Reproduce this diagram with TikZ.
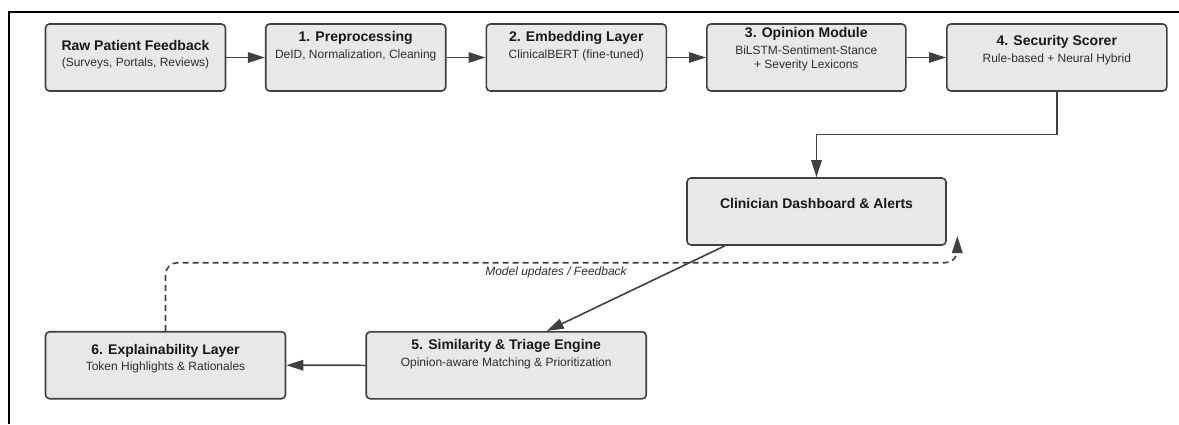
\documentclass[tikz,border=0pt]{standalone}
\usepackage{fontspec}
\setmainfont{Liberation Sans}
\usetikzlibrary{arrows.meta,positioning,calc}
\definecolor{boxfill}{HTML}{E8E8E8}
\definecolor{boxline}{HTML}{404040}
\definecolor{subtext}{HTML}{2E2E2E}
\tikzset{
    flowbox/.style={draw=boxline, line width=1.6pt, rounded corners=4pt, fill=boxfill, minimum height=67pt, inner sep=0pt},
    flowtitle/.style={font=\fontsize{14}{16}\selectfont\bfseries, text=black!90, inner sep=0pt, text height=10pt, text depth=0pt},
    flowsub/.style={font=\fontsize{12}{14}\selectfont, text=subtext, align=center, inner sep=0pt, text height=8.6pt, text depth=0pt},
    flowsubm/.style={font=\fontsize{12}{14}\selectfont, text=subtext, align=center, inner sep=0pt},
    flowarrow/.style={-{Triangle[length=17pt,width=10.5pt]}, line width=1.6pt, draw=boxline},
    flownote/.style={font=\fontsize{12}{14}\selectfont\itshape, text=subtext, inner sep=0pt}
}

\begin{document}
\begin{tikzpicture}[x=1pt, y=-1pt]
        \useasboundingbox (0,0) rectangle (1179,424);
        \draw[line width=1.8pt, black] (1179,12) -- (9.3,12) -- (9.3,424);

        % top row
        \node[flowbox, minimum width=180pt] (raw) at (135.5,57.5) {};
        \node[flowbox, minimum width=180pt] (pre) at (355.7,57.5) {};
        \node[flowbox, minimum width=180pt] (emb) at (576.3,57.5) {};
        \node[flowbox, minimum width=199pt] (opi) at (806.3,57.5) {};
        \node[flowbox, minimum width=220pt] (sec) at (1056.8,57.5) {};
        % lower part
        \node[flowbox, minimum width=259pt] (dash) at (816.5,211.5) {};
        \node[flowbox, minimum width=280pt] (sim) at (506.2,365.3) {};
        \node[flowbox, minimum width=240pt] (expl) at (165.5,365.2) {};

        \node[flowtitle] (rawt) at (135.5,45) {Raw Patient Feedback};
        \node[flowsub] (raws) at (135.5,62.3) {(Surveys, Portals, Reviews)};
        \node[flowtitle] (pret) at (355.7,36.7) {1. Preprocessing};
        \node[flowsub] (pres) at (355.7,54) {DeID, Normalization, Cleaning};
        \node[flowtitle] (embt) at (576.3,36.7) {2. Embedding Layer};
        \node[flowsub] (embs) at (576.3,54) {ClinicalBERT (fine-tuned)};
        \node[flowtitle] (opit) at (806.3,32.3) {3. Opinion Module};
        \node[flowsubm] (opis) at (806.3,58.3) {BiLSTM-Sentiment-Stance\\+ Severity Lexicons};
        \node[flowtitle] (sect) at (1056.8,40.7) {4. Security Scorer};
        \node[flowsub] (secs) at (1056.8,58.3) {Rule-based + Neural Hybrid};
        \node[flowtitle] (dasht) at (816.5,203.3) {Clinician Dashboard \& Alerts};
        \node[flowtitle] (simt) at (506.2,344.3) {5. Similarity \& Triage Engine};
        \node[flowsub] (sims) at (506.2,361.7) {Opinion-aware Matching \& Prioritization};
        \node[flowtitle] (explt) at (165.5,349) {6. Explainability Layer};
        \node[flowsub] (expls) at (165.5,366) {Token Highlights \& Rationales};

        \draw[flowarrow] (raw) -- (pre);
        \draw[flowarrow] (pre) -- (emb);
        \draw[flowarrow] (emb) -- (opi);
        \draw[flowarrow] (opi) -- (sec);
        \draw[flowarrow] (sec.south) -- ++(0,42.6) -| (dash.north);
        \draw[flowarrow] ([xshift=38.7pt]dash.south west) -- ([xshift=40.5pt]sim.north);
        \draw[flowarrow] (sim.west) -- (expl.east);

        % feedback loop
        \coordinate (fbtip) at (957.3,236);
        \draw[flowarrow, dash pattern=on 6pt off 4pt, rounded corners=12pt] (expl.north) |- ($(fbtip)+(0,26.7)$) -- (fbtip);
        \node[flownote] (fbnote) at (556,272.3) {Model updates / Feedback};
\end{tikzpicture}
\end{document}
